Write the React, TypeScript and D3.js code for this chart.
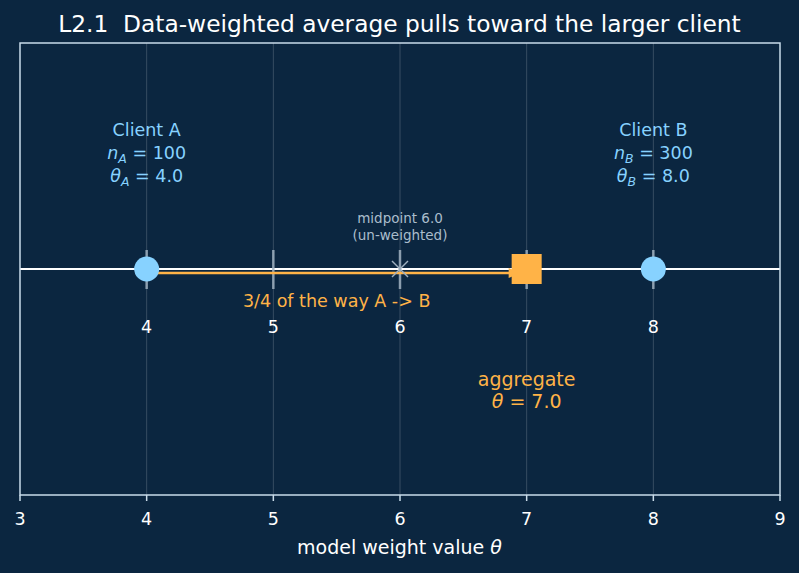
import * as d3 from 'd3';

// values
const xTicks = [3, 4, 5, 6, 7, 8, 9];
const numberLineTicks = [4, 5, 6, 7, 8];
const clients = [
  { name: 'A', n: 100, theta: 4.0 },
  { name: 'B', n: 300, theta: 8.0 },
];
const midpoint = 6.0;
const aggregate = 7.0;

const W = 799;
const H = 573;
const margin = { top: 43, right: 19, bottom: 78, left: 20 };

const BG = '#0b2640';
const FG = '#ffffff';
const SPINE = '#c9dcea';
const BLUE = '#87d2ff';
const ORANGE = '#ffb347';
const GREY = '#9fb0bf';
const FONT = 'DejaVu Sans, sans-serif';

export default function App() {
  const x = d3.scaleLinear().domain([3, 9]).range([margin.left, W - margin.right]);
  const y = d3.scaleLinear().domain([-1, 1]).range([H - margin.bottom, margin.top]);
  const y0 = y(0);
  const arrowY = y0 + 4;
  const arrowEnd = x(aggregate) - 6;

  return (
    <svg width={W} height={H} style={{ position: 'absolute', left: 0, top: 0, background: BG }}>
      <rect width={W} height={H} fill={BG} />
      <text x={W / 2} y={32} textAnchor="middle" fill={FG} fontSize={23.3} fontFamily={FONT} style={{ whiteSpace: 'pre' }}>
        {'L2.1  Data-weighted average pulls toward the larger client'}
      </text>

      {/* grid */}
      {numberLineTicks.map((t) => (
        <line key={'g' + t} x1={x(t)} x2={x(t)} y1={y(1)} y2={y(-1)} stroke="#ffffff" strokeOpacity={0.18} strokeWidth={1} />
      ))}

      {/* number line */}
      <line x1={x(3)} x2={x(9)} y1={y0} y2={y0} stroke={FG} strokeWidth={2} />
      {numberLineTicks.map((t) => (
        <g key={'t' + t}>
          <line x1={x(t)} x2={x(t)} y1={y0 - 19} y2={y0 + 20} stroke={GREY} strokeWidth={2.5} strokeOpacity={0.85} />
          <text x={x(t)} y={333} textAnchor="middle" fill={FG} fontSize={17.5} fontFamily={FONT}>{t}</text>
        </g>
      ))}

      {/* arrow */}
      <line x1={x(4)} x2={arrowEnd - 8} y1={arrowY} y2={arrowY} stroke={ORANGE} strokeWidth={2.5} />
      <path d={`M${arrowEnd},${arrowY} L${arrowEnd - 12},${arrowY - 5} L${arrowEnd - 12},${arrowY + 5} Z`} fill={ORANGE} />
      <text x={(x(4) + x(aggregate)) / 2} y={307} textAnchor="middle" fill={ORANGE} fontSize={17.5} fontFamily={FONT}>
        3/4 of the way A -&gt; B
      </text>

      {/* midpoint */}
      {(() => {
        const cx = x(midpoint);
        const s = 8;
        return (
          <g stroke={GREY} strokeWidth={1.5}>
            <line x1={cx - s} x2={cx + s} y1={y0 - s} y2={y0 + s} />
            <line x1={cx - s} x2={cx + s} y1={y0 + s} y2={y0 - s} />
          </g>
        );
      })()}
      <text x={x(midpoint)} y={223} textAnchor="middle" fill="#aabdcc" fontSize={13.5} fontFamily={FONT}>midpoint 6.0</text>
      <text x={x(midpoint)} y={240} textAnchor="middle" fill="#aabdcc" fontSize={13.5} fontFamily={FONT}>(un-weighted)</text>

      {/* clients */}
      {clients.map((c) => (
        <g key={c.name}>
          <circle cx={x(c.theta)} cy={y0} r={12.5} fill={BLUE} />
          <text x={x(c.theta)} y={136} textAnchor="middle" fill={BLUE} fontSize={17.5} fontFamily={FONT}>Client {c.name}</text>
          <text x={x(c.theta)} y={159} textAnchor="middle" fill={BLUE} fontSize={17.5} fontFamily={FONT}>
            <tspan fontStyle="italic">n</tspan>
            <tspan fontStyle="italic" fontSize={12.5} dy={4}>{c.name}</tspan>
            <tspan dy={-4}> = {c.n}</tspan>
          </text>
          <text x={x(c.theta)} y={182} textAnchor="middle" fill={BLUE} fontSize={17.5} fontFamily={FONT}>
            <tspan fontStyle="italic">θ</tspan>
            <tspan fontStyle="italic" fontSize={12.5} dy={4}>{c.name}</tspan>
            <tspan dy={-4}> = {c.theta.toFixed(1)}</tspan>
          </text>
        </g>
      ))}

      {/* aggregate */}
      <rect x={x(aggregate) - 15} y={y0 - 15} width={30} height={30} fill={ORANGE} />
      <text x={x(aggregate)} y={386} textAnchor="middle" fill={ORANGE} fontSize={19} fontFamily={FONT}>aggregate</text>
      <text x={x(aggregate)} y={408} textAnchor="middle" fill={ORANGE} fontSize={19} fontFamily={FONT}>
        <tspan fontStyle="italic">θ</tspan> = {aggregate.toFixed(1)}
      </text>

      {/* frame */}
      <rect x={x(3)} y={y(1)} width={x(9) - x(3)} height={y(-1) - y(1)} fill="none" stroke={SPINE} strokeWidth={1.5} />
      {xTicks.map((t) => (
        <g key={'x' + t}>
          <line x1={x(t)} x2={x(t)} y1={y(-1)} y2={y(-1) + 6} stroke={SPINE} strokeWidth={1.5} />
          <text x={x(t)} y={525} textAnchor="middle" fill={FG} fontSize={17.5} fontFamily={FONT}>{t}</text>
        </g>
      ))}
      <text x={W / 2} y={554} textAnchor="middle" fill={FG} fontSize={19} fontFamily={FONT}>
        model weight value <tspan fontStyle="italic">θ</tspan>
      </text>
    </svg>
  );
}
